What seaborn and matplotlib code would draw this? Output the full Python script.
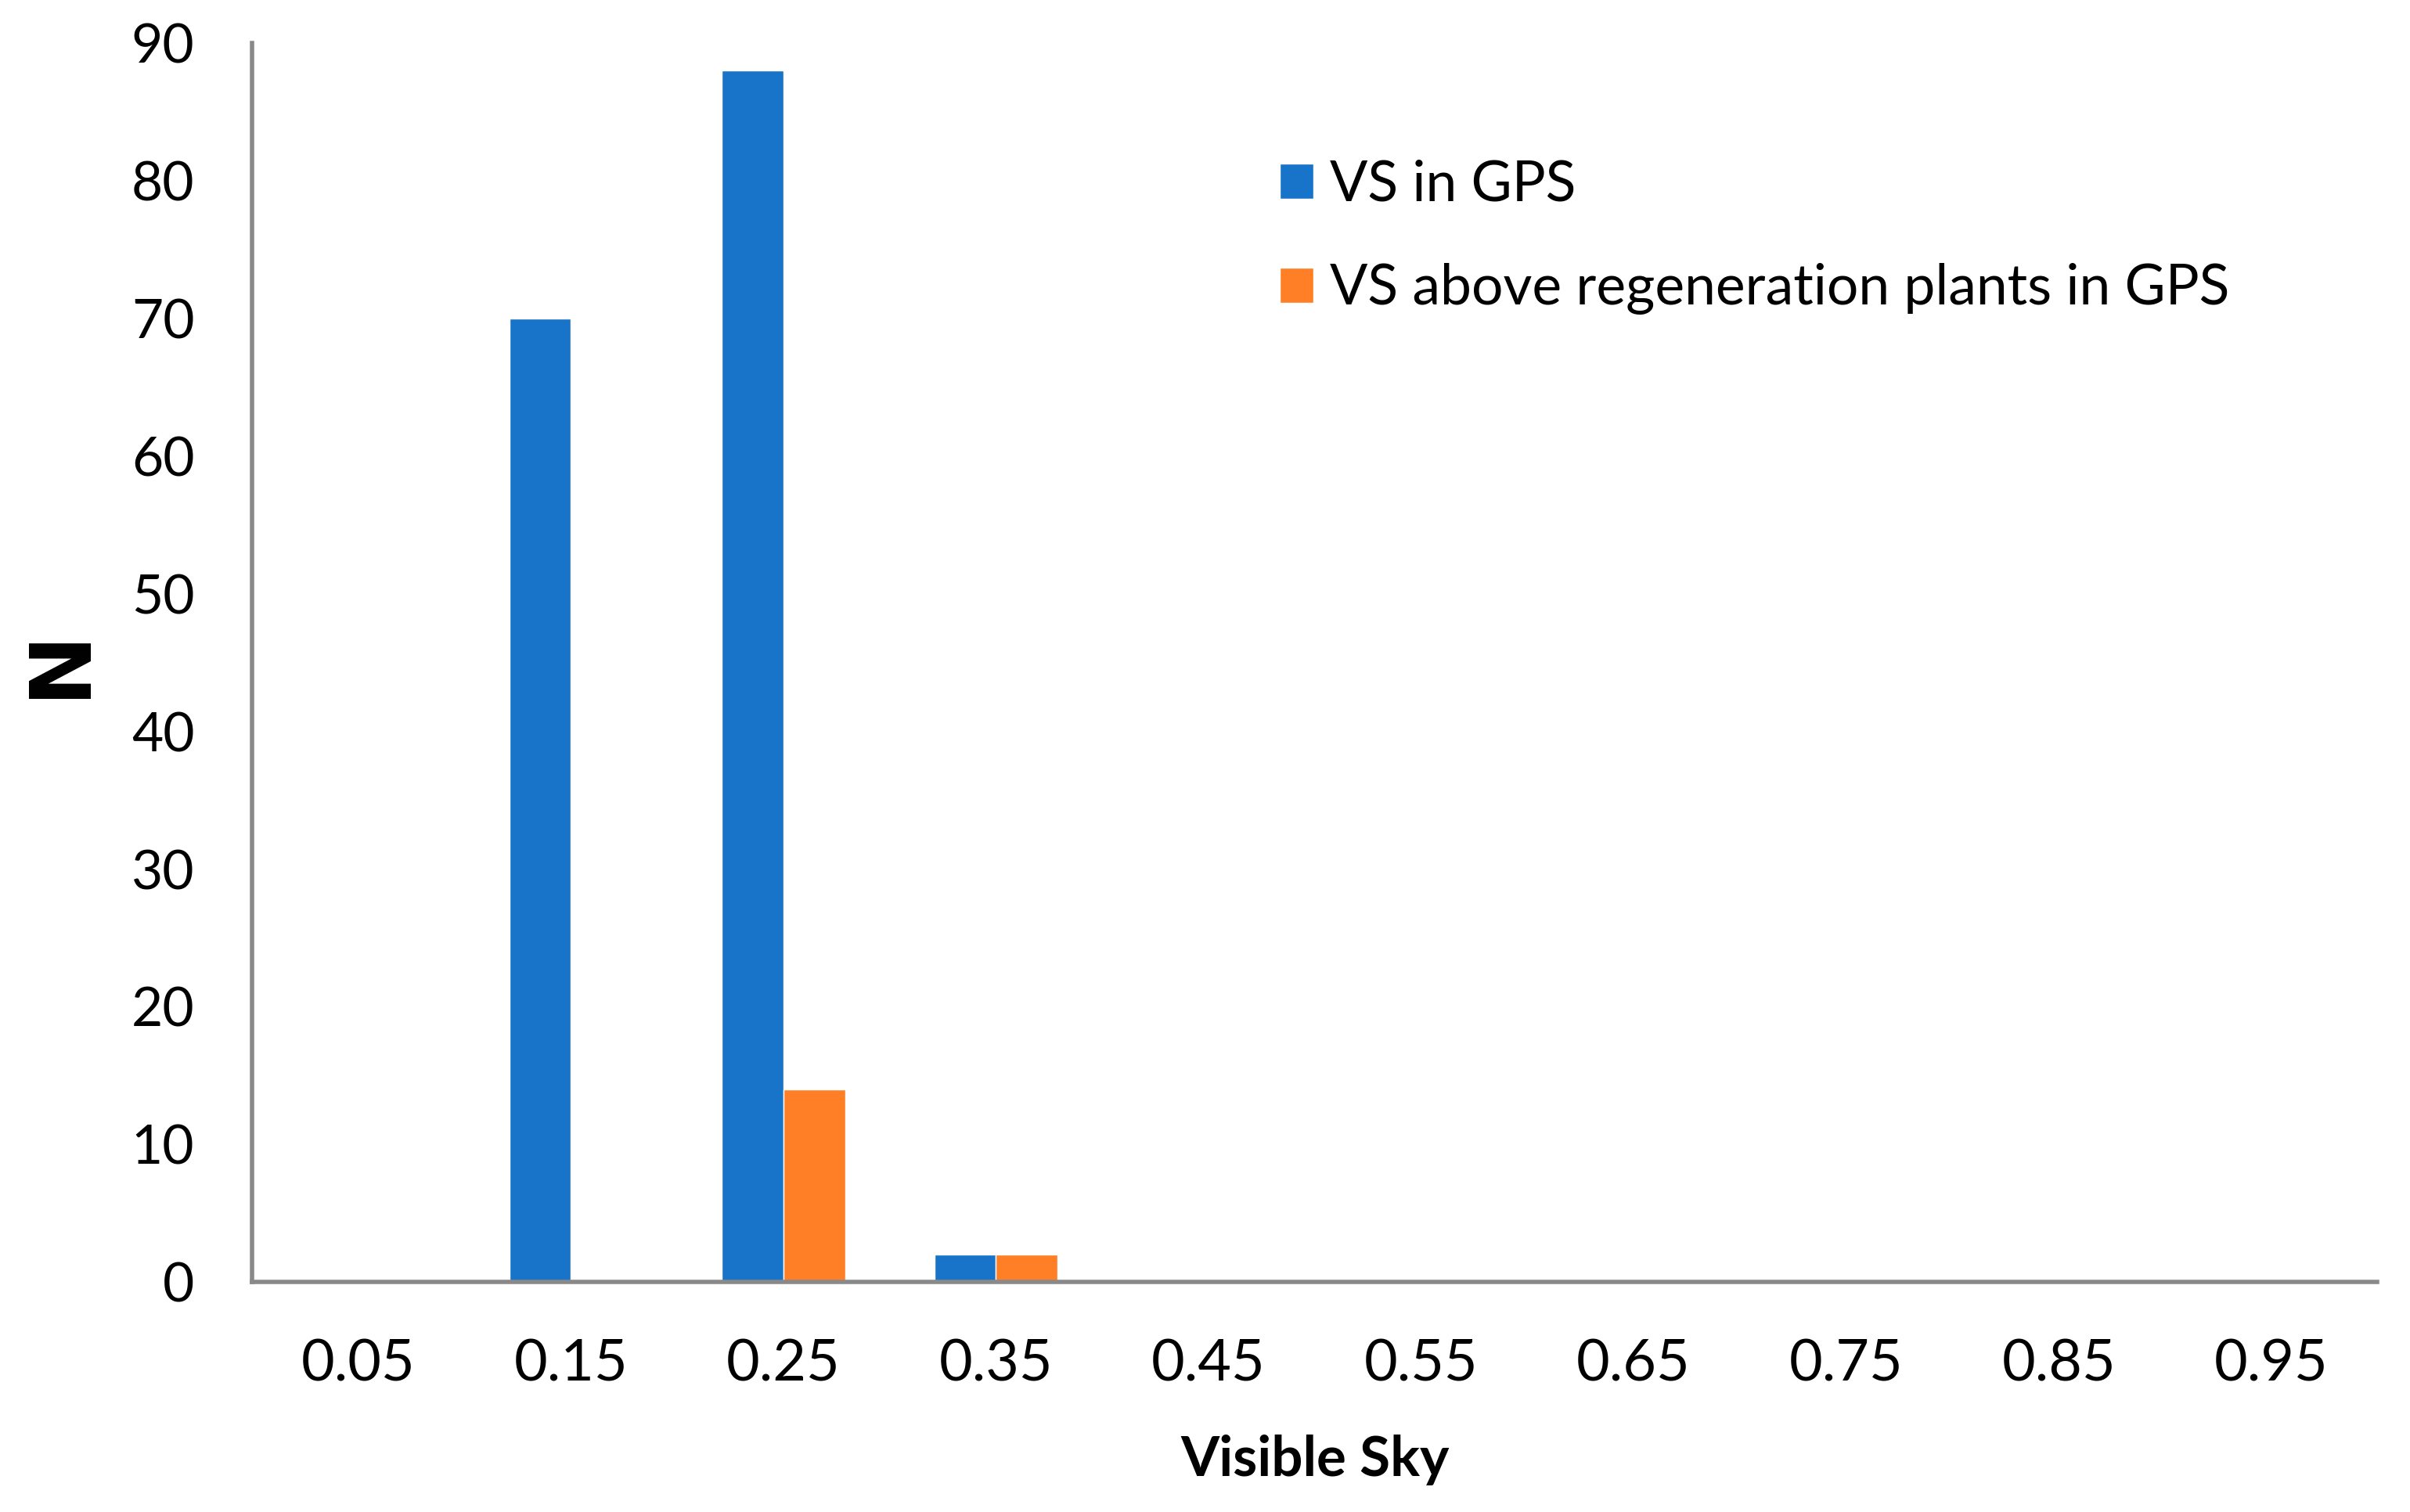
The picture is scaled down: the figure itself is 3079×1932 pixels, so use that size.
import pandas as pd
import seaborn as sns
import matplotlib.pyplot as plt
from matplotlib.ticker import FixedLocator

# Visible sky bins and counts per series
bins = ["0.05", "0.15", "0.25", "0.35", "0.45", "0.55", "0.65", "0.75", "0.85", "0.95"]
vs_gps = [0, 70, 88, 2, 0, 0, 0, 0, 0, 0]
vs_regen = [0, 0, 14, 2, 0, 0, 0, 0, 0, 0]
series_names = ["VS in GPS", "VS above regeneration plants in GPS"]
colors = ["#1874C8", "#FF7F27"]

df = pd.DataFrame({
    "bin": bins * 2,
    "count": vs_gps + vs_regen,
    "series": [series_names[0]] * len(bins) + [series_names[1]] * len(bins),
})

sns.set_style("white")
plt.rcParams["font.family"] = ["Lato", "DejaVu Sans"]
plt.rcParams["text.color"] = "black"
plt.rcParams["xtick.labelcolor"] = "black"
plt.rcParams["ytick.labelcolor"] = "black"
plt.rcParams["axes.labelcolor"] = "black"

fig, ax = plt.subplots(figsize=(30.79, 19.32), dpi=100)
fig.subplots_adjust(left=0.1046, right=0.9865, bottom=0.152, top=0.9715)

sns.barplot(
    data=df, x="bin", y="count", hue="series",
    palette=colors, saturation=1, width=0.58, gap=0,
    errorbar=None, ax=ax,
)

grey = "#898989"
for side in ["top", "right"]:
    ax.spines[side].set_visible(False)
for side in ["left", "bottom"]:
    ax.spines[side].set_color(grey)
    ax.spines[side].set_linewidth(4)

ax.set_xlim(-0.5, len(bins) - 0.5)
ax.set_ylim(0, 90)
ax.set_yticks(range(0, 91, 10))

# labels at bin centres, tick marks at bin edges (Excel style)
ax.xaxis.set_minor_locator(FixedLocator([i - 0.5 for i in range(len(bins) + 1)]))
ax.tick_params(axis="x", which="major", length=0, pad=52, labelsize=53)
ax.tick_params(axis="x", which="minor", length=19, width=3.5, color=grey)
ax.tick_params(axis="y", which="major", length=19, width=3.5, color=grey,
               pad=34, labelsize=50)

ax.set_xlabel("Visible Sky", fontsize=51, fontweight="bold", labelpad=40)
ax.set_ylabel("N", fontsize=78, fontweight="bold", family="DejaVu Sans")
ax.yaxis.set_label_coords(-0.0708, 0.5)

handles, labels = ax.get_legend_handles_labels()
ax.legend(
    handles, labels, loc="upper left", bbox_to_anchor=(0.51, 0.928),
    bbox_transform=fig.transFigure, frameon=False, fontsize=51.5,
    handlelength=0.6, handleheight=0.6, handletextpad=0.3, labelspacing=0.95,
)

fig.savefig("out.png", dpi=100)
